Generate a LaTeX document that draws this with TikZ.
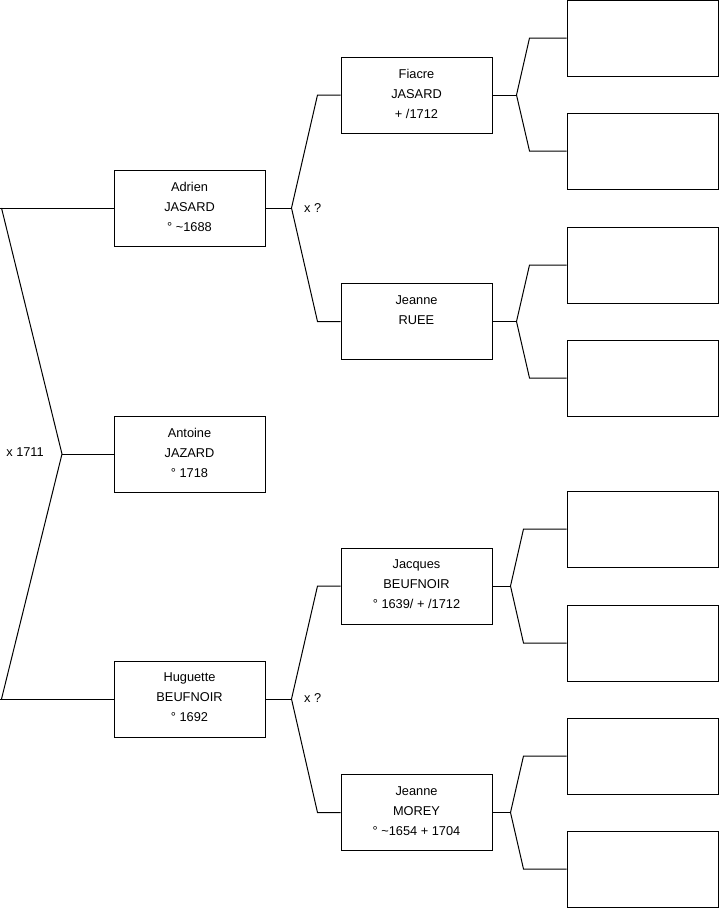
\documentclass[tikz,border=0pt]{standalone}
\usepackage{fontspec}
\setmainfont{Liberation Sans}
\usetikzlibrary{positioning,calc}

\begin{document}
\begin{tikzpicture}[x=1pt,y=-1pt,
  person/.style={draw,line width=1pt,minimum width=151pt,minimum height=76pt,inner sep=0pt,align=center,font=\fontsize{12.8}{20}\selectfont,execute at end node={\rule[-3pt]{0pt}{3pt}}},
  link/.style={line width=1pt},
  union/.style={inner sep=0pt,font=\fontsize{12.8}{14}\selectfont}]
  \useasboundingbox (0,0) rectangle (719,908);
  % child and parents
  \node[person] (antoine) at (189.5,454) {Antoine\\JAZARD\\° 1718};
  \node[person] (adrien) at (189.5,208) {Adrien\\JASARD\\° \textasciitilde1688};
  \node[person] (huguette) at (189.5,699) {Huguette\\BEUFNOIR\\° 1692};
  % grandparents
  \node[person] (fiacre) at (416.5,95) {Fiacre\\JASARD\\ + /1712};
  \node[person] (jeanneR) at (416.5,321.5) {Jeanne\\RUEE\\~};
  \node[person] (jacques) at (416.5,586) {Jacques\\BEUFNOIR\\° 1639/ + /1712};
  \node[person] (jeanneM) at (416.5,812.5) {Jeanne\\MOREY\\° \textasciitilde1654 + 1704};
  % empty boxes
  \foreach \n/\y in {1/38,2/151,3/265,4/378,5/529,6/643,7/756,8/869}{
    \node[person] (e\n) at (642.5,\y) {};
  }
  % forks
  \coordinate (r) at (62,454);
  \draw[link] (antoine.west) -- (r);
  \draw[link] (adrien.west) -- ++(-114,0);
  \draw[link] (huguette.west) -- ++(-114,0);
  \draw[link] ([xshift=-112pt]adrien.west) -- (r) -- ([xshift=-112pt]huguette.west);
  \node[union,anchor=east] (m1) at (44,452) {x 1711};

  \draw[link] (adrien.east) -- ++(26,0) coordinate (fa);
  \draw[link] (fiacre.west) -- ++(-23,0) -- (fa) -- ([xshift=-23pt]jeanneR.west) -- (jeanneR.west);
  \node[union,anchor=west] (m2) at (304,208) {x ?};

  \draw[link] (huguette.east) -- ++(26,0) coordinate (fh);
  \draw[link] (jacques.west) -- ++(-23,0) -- (fh) -- ([xshift=-23pt]jeanneM.west) -- (jeanneM.west);
  \node[union,anchor=west] (m3) at (304,698) {x ?};

  \foreach \p/\a/\b/\d/\k in {fiacre/e1/e2/24/37,jeanneR/e3/e4/24/37,jacques/e5/e6/18/43,jeanneM/e7/e8/18/43}{
    \draw[link] (\p.east) -- ++(\d,0) coordinate (v\p);
    \draw[link] (\a.west) -- ++(-\k,0) -- (v\p) -- ([xshift=-\k pt]\b.west) -- (\b.west);
  }
\end{tikzpicture}
\end{document}
